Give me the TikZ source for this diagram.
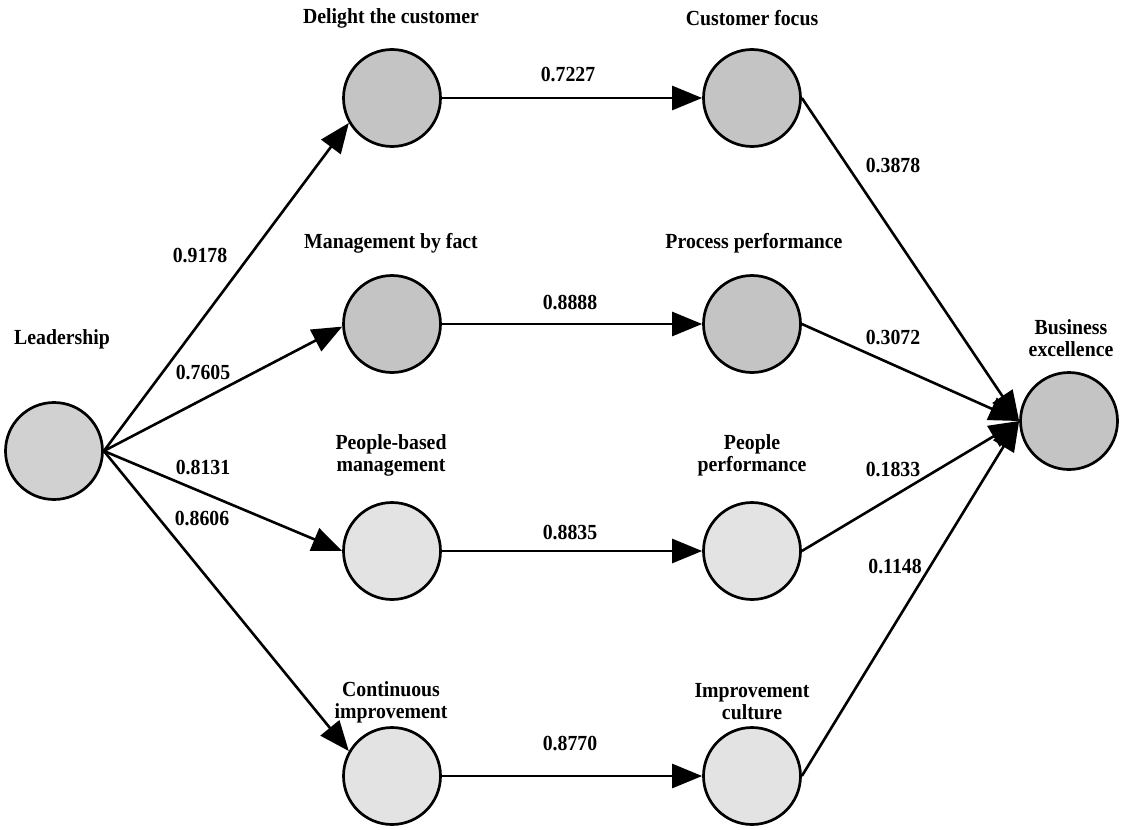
\documentclass[tikz,border=0pt]{standalone}
\usepackage{fontspec}
\setmainfont[FakeStretch=0.92]{Liberation Serif}
\usetikzlibrary{arrows.meta}
\begin{document}
\begin{tikzpicture}[x=1pt,y=-1pt,
  construct/.style={circle, draw=black, line width=2.7pt, minimum size=97pt, inner sep=0pt},
  darkfill/.style={construct, fill=black!23},
  midfill/.style={construct, fill=black!18},
  lightfill/.style={construct, fill=black!11},
  caption/.style={font=\fontsize{21.5}{22}\selectfont\bfseries, align=center, inner sep=0pt},
  weight/.style={font=\fontsize{21.5}{22}\selectfont\bfseries, inner sep=0pt},
  link/.style={line width=2.6pt, -{Triangle[length=30pt,width=24pt]}}
]
\useasboundingbox (0,0) rectangle (1147,829);

% constructs
\node[midfill]   (lead) at (54,451)  {};
\node[darkfill]  (dtc)  at (392,98)  {};
\node[darkfill]  (mbf)  at (392,324) {};
\node[lightfill] (pbm)  at (392,551) {};
\node[lightfill] (ci)   at (392,776) {};
\node[darkfill]  (cf)   at (752,98)  {};
\node[darkfill]  (pp)   at (752,324) {};
\node[lightfill] (ppl)  at (752,551) {};
\node[lightfill] (ic)   at (752,776) {};
\node[darkfill]  (be)   at (1069,421) {};

% captions
\node[caption] (tlead) at (62,339)  {Leadership};
\node[caption] (tdtc)  at (391,18)  {Delight the customer};
\node[caption] (tcf)   at (752,18)  {Customer focus};
\node[caption] (tmbf)  at (391,243) {Management by fact};
\node[caption] (tpp)   at (754,243) {Process performance};
\node[caption] (tpbm)  at (391,455) {People-based\\management};
\node[caption] (tppl)  at (752,455) {People\\performance};
\node[caption] (tci)   at (391,702) {Continuous\\improvement};
\node[caption] (tic)   at (752,702) {Improvement\\culture};
\node[caption] (tbe)   at (1071,338) {Business\\excellence};

% path coefficients
\node[weight] (w1)  at (200,256) {0.9178};
\node[weight] (w2)  at (203,372) {0.7605};
\node[weight] (w3)  at (203,467) {0.8131};
\node[weight] (w4)  at (202,518) {0.8606};
\node[weight] (w5)  at (568,75)  {0.7227};
\node[weight] (w6)  at (570,303) {0.8888};
\node[weight] (w7)  at (570,532) {0.8835};
\node[weight] (w8)  at (570,743) {0.8770};
\node[weight] (w9)  at (893,166) {0.3878};
\node[weight] (w10) at (893,338) {0.3072};
\node[weight] (w11) at (893,469) {0.1833};
\node[weight] (w12) at (895,566) {0.1148};

% connectors
\draw[link] (lead.east) -- (dtc.210);
\draw[link] (lead.east) -- (mbf.183);
\draw[link] (lead.east) -- (pbm.west);
\draw[link] (lead.east) -- (ci.150);
\draw[link] (dtc.east) -- (cf.west);
\draw[link] (mbf.east) -- (pp.west);
\draw[link] (pbm.east) -- (ppl.west);
\draw[link] (ci.east) -- (ic.west);
\draw[link] (cf.east) -- (be.west);
\draw[link] (pp.east) -- (be.west);
\draw[link] (ppl.east) -- (be.west);
\draw[link] (ic.east) -- (be.west);
\end{tikzpicture}
\end{document}
